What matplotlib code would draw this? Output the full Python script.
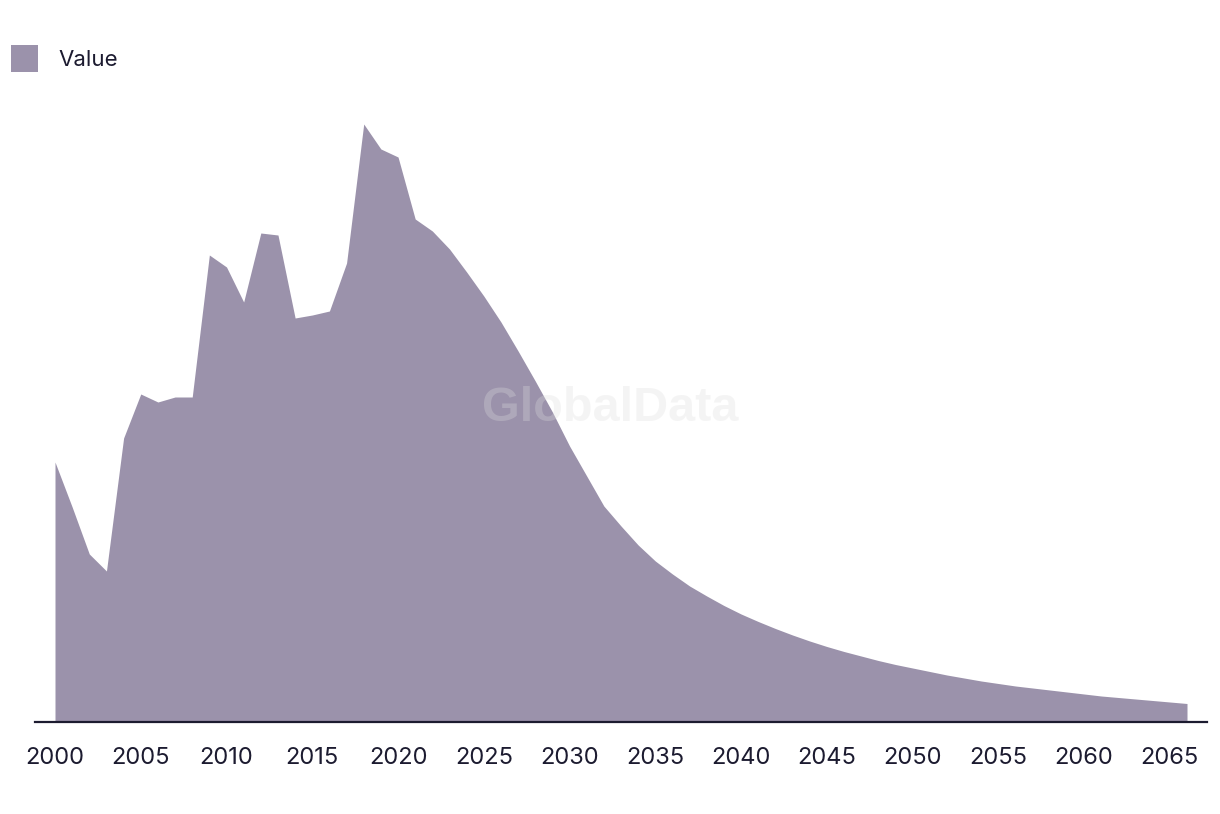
import matplotlib.pyplot as plt
import numpy as np
from matplotlib.patches import Patch

years = np.arange(2000, 2067)
values = [
    260, 215, 168, 151, 284, 328, 320, 325, 325, 467,
    455, 420, 489, 487, 404, 407, 411, 459, 598, 573,
    565, 503, 491, 473, 450, 426, 400, 371, 341, 310,
    276, 246, 216, 196, 177, 161, 148, 136, 126, 116.5,
    108, 100.5, 93.5, 87, 81, 75.5, 70.5, 66, 61.5, 57.5,
    54, 50.5, 47, 44, 41, 38.5, 36, 34, 32, 30,
    28, 26, 24.5, 23, 21.5, 20, 18.5,
]
tick_years = list(range(2000, 2066, 5))

fill_color = '#9b92ab'
text_color = '#1c1b30'

fig = plt.figure(figsize=(12.2, 8.14), dpi=100)
ax = fig.add_axes([35 / 1220, 1 - 722 / 814, (1207 - 35) / 1220, (722 - 100) / 814])

ax.fill_between(years, values, 0, color=fill_color, linewidth=0)

ax.set_xlim(2000 - 20 / 17.15, 2066 + 20 / 17.15)
ax.set_ylim(0, 622)

for s in ['top', 'right', 'left']:
    ax.spines[s].set_visible(False)
ax.spines['bottom'].set_color(text_color)
ax.spines['bottom'].set_linewidth(1.6)
ax.set_yticks([])
ax.set_xticks(tick_years)
ax.set_xticklabels([str(y) for y in tick_years], fontsize=17, color=text_color,
                   family=['Inter', 'DejaVu Sans'])
ax.tick_params(axis='x', length=0, pad=18)

# watermark
fig.text(610 / 1220, 1 - 408 / 814, 'GlobalData', fontsize=35, fontweight='bold',
         family='Liberation Sans', color='#dddddd', alpha=0.3, ha='center', va='center')

leg = fig.legend(handles=[Patch(facecolor=fill_color, edgecolor='none', label='Value')],
                 loc='upper left', bbox_to_anchor=(0.002, 1 - 36 / 814), frameon=False,
                 handlelength=1.2, handleheight=1.5, handletextpad=0.9,
                 borderaxespad=0.2, borderpad=0.2,
                 prop={'family': ['Inter', 'DejaVu Sans'], 'size': 16})
for t in leg.get_texts():
    t.set_color(text_color)

fig.savefig('out.png', dpi=100)
